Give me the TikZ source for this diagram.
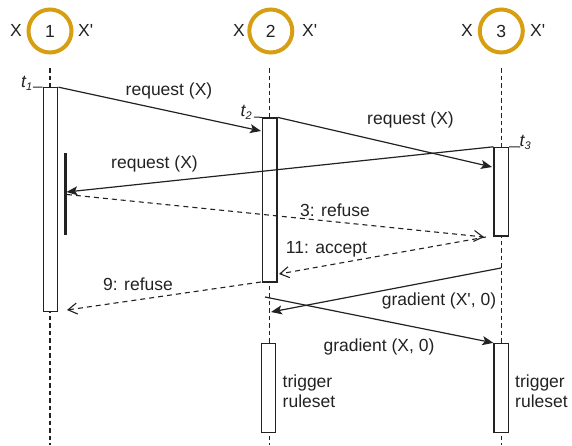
\documentclass[tikz,border=0pt]{standalone}
\usepackage{fontspec}
\newfontfamily\labfont{Liberation Sans}
\usetikzlibrary{arrows.meta}
\definecolor{ring}{RGB}{214,158,16}
\definecolor{ink}{RGB}{34,34,34}
\newcommand{\tsub}[2]{{\itshape #1\raisebox{-3pt}{\fontsize{11}{11}\selectfont #2}}}
\begin{document}
\begin{tikzpicture}[x=1pt,y=-1pt,
  font=\labfont\fontsize{17.5}{20}\selectfont,
  actor/.style={circle, draw=ring, line width=4pt, minimum size=43pt, inner sep=0pt, text=ink},
  actbox/.style={draw=ink, fill=white, line width=1.3pt, minimum width=14.5pt, inner sep=0pt},
  life/.style={draw=ink, line width=1.2pt, dash pattern=on 4.5pt off 3pt},
  msg/.style={draw=ink, line width=1.2pt, -{Stealth[length=11pt,width=9pt,inset=2.5pt]}},
  reply/.style={draw=ink, line width=1.1pt, dash pattern=on 5pt off 4pt, -{Straight Barb[length=9pt,width=11pt]}},
  tick/.style={draw=ink, line width=1pt},
  lab/.style={inner sep=0pt, text=ink}]
\path[use as bounding box] (0,0) rectangle (572,445);

% participants
\node[actor] (p1) at (50,31) {1};
\node[actor] (p2) at (270.8,31) {2};
\node[actor] (p3) at (501.3,31) {3};
\node[lab, anchor=base east] (x1) at (22,36) {X};
\node[lab, anchor=base west] (y1) at (78,36) {X'};
\node[lab, anchor=base east] (x2) at (245,36) {X};
\node[lab, anchor=base west] (y2) at (302,36) {X'};
\node[lab, anchor=base east] (x3) at (473,36) {X};
\node[lab, anchor=base west] (y3) at (530,36) {X'};

% lifelines
\coordinate (l1t) at (50,68);  \coordinate (l1b) at (50,445);
\coordinate (l2t) at (269.5,68); \coordinate (l2b) at (269.5,445);
\coordinate (l3t) at (501.5,68); \coordinate (l3b) at (501.5,445);
\draw[life] (l1t) -- (l1b);
\draw[life] (l2t) -- (l2b);
\draw[life] (l3t) -- (l3b);

% activations
\node[actbox, minimum height=224pt] (a1) at (50.5,199.8) {};
\node[actbox, minimum height=164pt] (a2) at (269.7,200) {};
\node[actbox, minimum height=88.5pt] (a3) at (501.3,191.7) {};
\node[actbox, minimum height=89pt] (a4) at (268.5,388) {};
\node[actbox, minimum height=89pt] (a5) at (501.3,388) {};

% blocking bar on lifeline 1
\coordinate (bt) at (65,153);
\coordinate (bb) at (65,235);
\draw[ink, line width=3pt] (bt) -- (bb);

% time marks
\coordinate (t1e) at (33,87);
\coordinate (t2e) at (254,117);
\coordinate (t3e) at (520,147);
\draw[tick] (t1e) -- (a1.north west);
\draw[tick] (t2e) -- (a2.north west);
\draw[tick] (a3.north east) -- (t3e);
\node[lab, anchor=base west] (t1) at (21,87) {\tsub{t}{1}};
\node[lab, anchor=base west] (t2) at (240.5,116.5) {\tsub{t}{2}};
\node[lab, anchor=base west] (t3) at (519.5,146.5) {\tsub{t}{3}};

% message end points
\coordinate (r1e) at (261,131);
\coordinate (r2e) at (492,167);
\coordinate (r3e) at (66.5,192);
\coordinate (f3s) at (67,194.5);
\coordinate (f3e) at (484,237);
\coordinate (acs) at (486,237);
\coordinate (ace) at (279,274);
\coordinate (f9s) at (261,282);
\coordinate (f9e) at (67,310);
\coordinate (g1s) at (501,268);
\coordinate (g1e) at (271,312);
\coordinate (g2s) at (265,297);

% messages
\draw[msg] (a1.north east) -- (r1e);
\draw[msg] (a2.north east) -- (r2e);
\draw[msg] (a3.north west) -- (r3e);
\draw[reply] (f3s) -- (f3e);
\draw[reply] (acs) -- (ace);
\draw[reply] (f9s) -- (f9e);
\draw[msg] (g1s) -- (g1e);
\draw[msg] (g2s) -- (a5.north west);

% message labels
\node[lab, anchor=base] (m1) at (169,95) {request (X)};
\node[lab, anchor=base] (m2) at (410.5,124.5) {request (X)};
\node[lab, anchor=base] (m3) at (154.5,168) {request (X)};
\node[lab, anchor=base] (m4) at (335,216) {3: refuse};
\node[lab, anchor=base] (m5) at (326.5,253.3) {11: accept};
\node[lab, anchor=base] (m6) at (138,290) {9: refuse};
\node[lab, anchor=base] (m7) at (439,305.5) {gradient (X', 0)};
\node[lab, anchor=base] (m8) at (379,351.5) {gradient (X, 0)};

% rule triggers
\node[lab, anchor=base west] (g2a) at (282.5,387) {trigger};
\node[lab, anchor=base west] (g2b) at (282.5,407) {ruleset};
\node[lab, anchor=base west] (g3a) at (515,387) {trigger};
\node[lab, anchor=base west] (g3b) at (515,407) {ruleset};
\end{tikzpicture}
\end{document}
